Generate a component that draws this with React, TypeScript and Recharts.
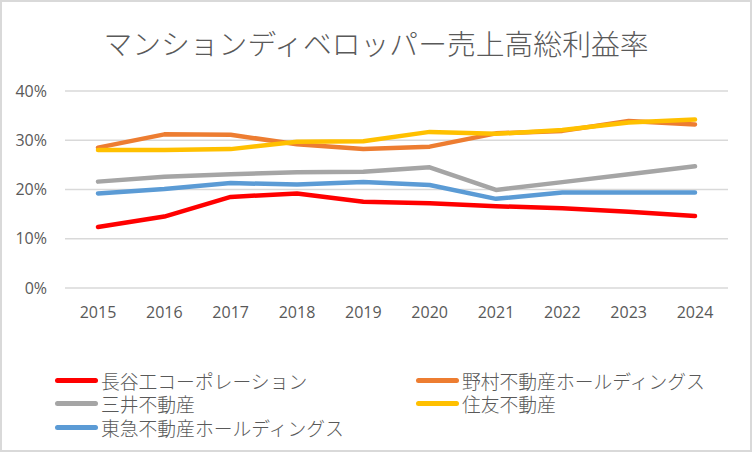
import React from 'react';
import { LineChart, Line, XAxis, YAxis, CartesianGrid, Legend } from 'recharts';

const years = ['2015', '2016', '2017', '2018', '2019', '2020', '2021', '2022', '2023', '2024'];

const haseko = [12.4, 14.5, 18.5, 19.2, 17.5, 17.2, 16.6, 16.2, 15.5, 14.6];
const nomura = [28.5, 31.2, 31.1, 29.2, 28.2, 28.7, 31.4, 31.9, 33.9, 33.2];
const mitsui = [21.6, 22.6, 23.1, 23.5, 23.6, 24.5, 19.9, 21.5, 23.1, 24.7];
const sumitomo = [28.0, 28.0, 28.2, 29.7, 29.8, 31.7, 31.3, 32.1, 33.6, 34.2];
const tokyu = [19.2, 20.1, 21.3, 21.0, 21.5, 20.9, 18.1, 19.4, 19.4, 19.4];

const yTicks = [0, 10, 20, 30, 40];

const series = [
  { key: 'haseko', name: '長谷工コーポレーション', color: '#FF0000', values: haseko },
  { key: 'nomura', name: '野村不動産ホールディングス', color: '#ED7D31', values: nomura },
  { key: 'mitsui', name: '三井不動産', color: '#A5A5A5', values: mitsui },
  { key: 'sumitomo', name: '住友不動産', color: '#FFC000', values: sumitomo },
  { key: 'tokyu', name: '東急不動産ホールディングス', color: '#5B9BD5', values: tokyu },
];

const data = years.map((year, i) => {
  const row: Record<string, string | number> = { year };
  series.forEach((s) => {
    row[s.key] = s.values[i];
  });
  return row;
});

const cjkFont = '"Noto Sans CJK JP", "Noto Sans", sans-serif';
const textColor = '#595959';

const renderLegend = () => (
  <div
    style={{
      display: 'grid',
      gridTemplateColumns: '361px 320px',
      fontFamily: cjkFont,
      fontSize: 18.8,
      lineHeight: '23.3px',
      color: textColor,
      fontWeight: 300,
    }}
  >
    {series.map((s) => (
      <div key={s.key} style={{ display: 'flex', alignItems: 'center', whiteSpace: 'nowrap', height: 23.3 }}>
        <span
          style={{
            display: 'inline-block',
            width: 43,
            height: 5,
            borderRadius: 3,
            background: s.color,
            marginRight: 3,
          }}
        />
        <span>{s.name}</span>
      </div>
    ))}
  </div>
);

export default function App() {
  return (
    <div
      style={{
        position: 'absolute',
        left: 0,
        top: 0,
        width: 752,
        height: 452,
        boxSizing: 'border-box',
        border: '2px solid #d9d9d9',
        background: '#fff',
      }}
    >
      <div
        style={{
          position: 'absolute',
          left: -2,
          top: 27,
          width: 752,
          textAlign: 'center',
          fontFamily: cjkFont,
          fontSize: 28.8,
          lineHeight: 1,
          fontWeight: 300,
          color: textColor,
        }}
      >
        マンションディベロッパー売上高総利益率
      </div>
      <div style={{ position: 'absolute', left: -2, top: -2 }}>
        <LineChart width={752} height={452} data={data} margin={{ top: 91, right: 24, bottom: 134, left: 0 }}>
          <CartesianGrid vertical={false} stroke="#d9d9d9" strokeWidth={1.5} />
          <XAxis
            dataKey="year"
            axisLine={false}
            tickLine={false}
            tickSize={0}
            tickMargin={19}
            height={30}
            padding={{ left: 33, right: 33 }}
            tick={{ fill: textColor, fontSize: 16, fontFamily: '"Open Sans", sans-serif' }}
          />
          <YAxis
            width={65}
            domain={[0, 40]}
            ticks={yTicks}
            tickFormatter={(v) => `${v}%`}
            axisLine={false}
            tickLine={false}
            tickSize={0}
            tickMargin={18}
            tick={{ fill: textColor, fontSize: 16, fontFamily: '"Open Sans", sans-serif' }}
          />
          <Legend
            content={renderLegend}
            verticalAlign="middle"
            align="center"
            wrapperStyle={{ position: 'absolute', left: 55, top: 369, width: 690, height: 72 }}
          />
          {series.map((s) => (
            <Line
              key={s.key}
              type="linear"
              dataKey={s.key}
              name={s.name}
              stroke={s.color}
              strokeWidth={4.5}
              strokeLinecap="round"
              strokeLinejoin="round"
              dot={false}
              activeDot={false}
              isAnimationActive={false}
            />
          ))}
        </LineChart>
      </div>
    </div>
  );
}
